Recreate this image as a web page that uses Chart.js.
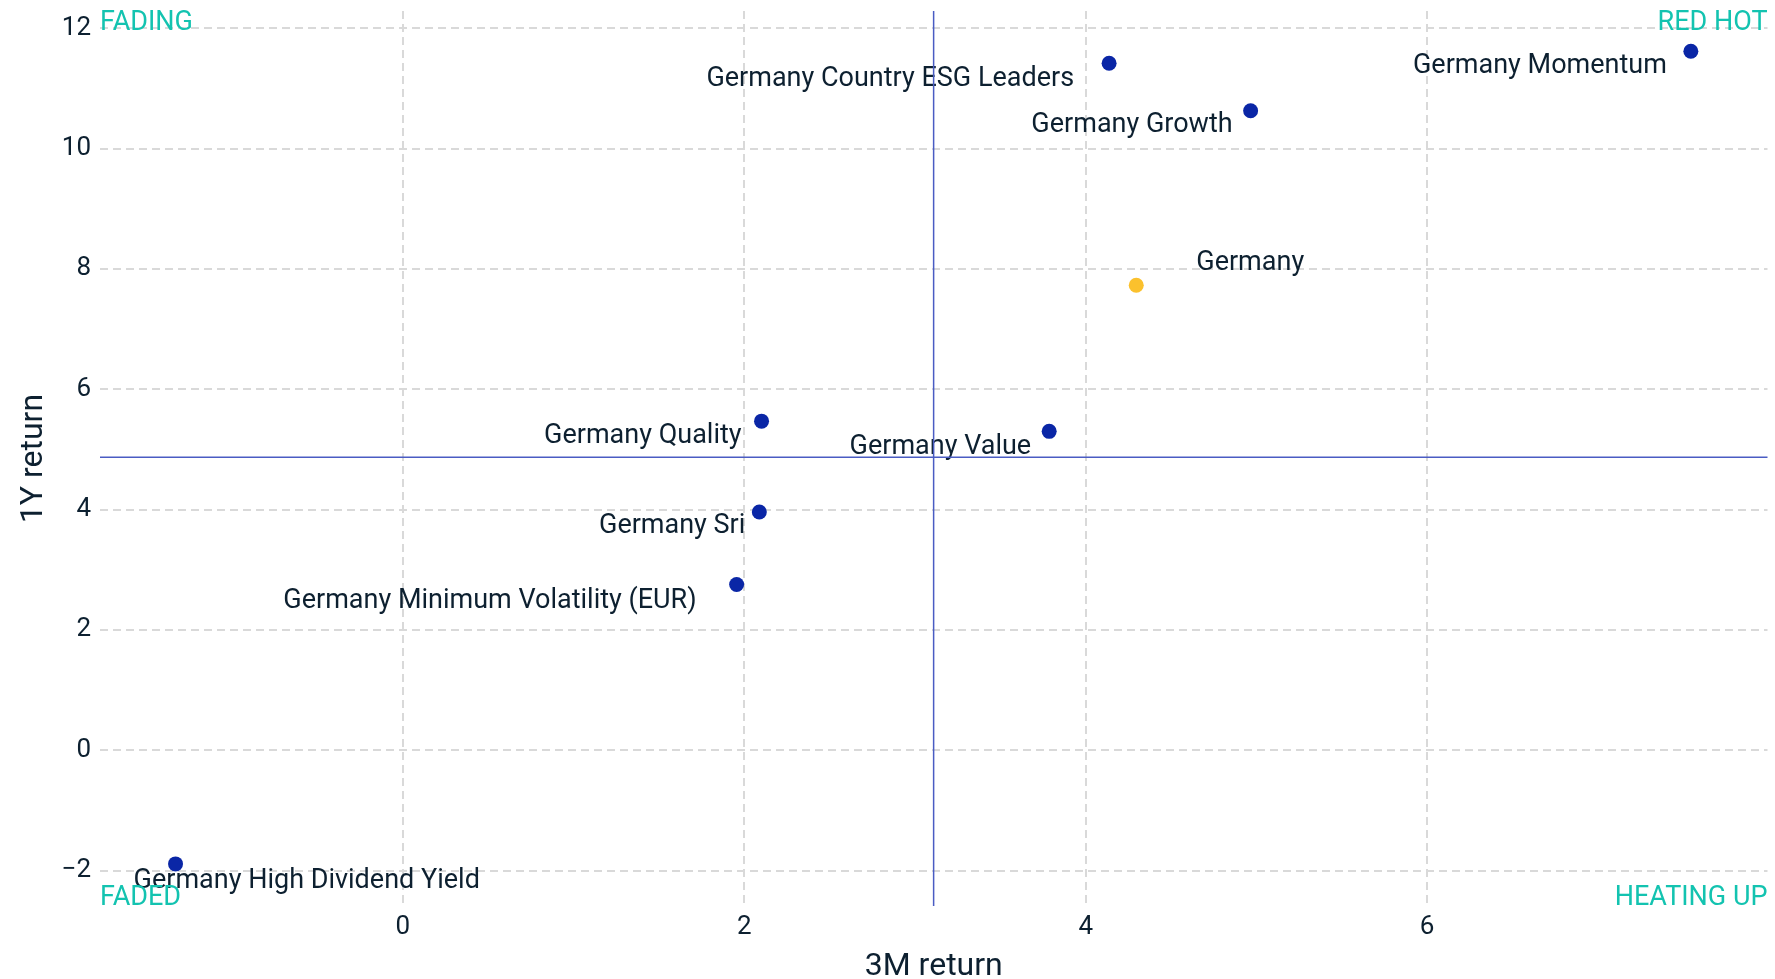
<!DOCTYPE html>
<html>
<head>
<meta charset="utf-8">
<script src="https://cdn.jsdelivr.net/npm/chart.js@4.4.1/dist/chart.umd.min.js"></script>
<style>
  body { margin: 0; background: #fff; }
  #wrap { width: 1775px; height: 979px; }
</style>
</head>
<body>
<div id="wrap"><canvas id="quadChart" width="1775" height="979"></canvas></div>
<script>
// data
const names = ['Germany Momentum', 'Germany Country ESG Leaders', 'Germany Growth', 'Germany',
  'Germany Quality', 'Germany Value', 'Germany Sri', 'Germany Minimum Volatility (EUR)', 'Germany High Dividend Yield'];
const ret3m = [7.545, 4.137, 4.966, 4.296, 2.101, 3.786, 2.088, 1.955, -1.332];
const ret1y = [11.62, 11.42, 10.63, 7.73, 5.47, 5.30, 3.96, 2.755, -1.89];
const xTicks = [0, 2, 4, 6];
const yTicks = [-2, 0, 2, 4, 6, 8, 10, 12];
const refX = 3.109;   // vertical divider
const refY = 4.868;   // horizontal divider
const quadrants = ['FADING', 'RED HOT', 'FADED', 'HEATING UP'];
const benchmark = 'Germany';

// label placement (px from the point): dx, dy, side
const labelPos = [
  [-24, 15, 'right'], [-35, 16, 'right'], [-18, 15, 'right'], [60, -22, 'left'],
  [-20, 15, 'right'], [-18, 16, 'right'], [-14, 14, 'right'], [-40, 17, 'right'], [-42, 17, 'left']
];

const textCol = '#0d2030';
const teal = '#13c3b0';

const points = ret3m.map((x, i) => ({ x: x, y: ret1y[i] }));
const colors = names.map(n => n === benchmark ? '#fbc12d' : '#0a26a6');
const minus = v => String(v).replace('-', '\u2212');

const overlay = {
  id: 'overlay',
  afterDatasetsDraw(chart) {
    const ctx = chart.ctx;
    const xs = chart.scales.x, ys = chart.scales.y;
    const area = chart.chartArea;
    ctx.save();
    // point labels
    ctx.font = '27px Roboto';
    ctx.fillStyle = textCol;
    ctx.textBaseline = 'middle';
    names.forEach((n, i) => {
      const px = xs.getPixelForValue(ret3m[i]);
      const py = ys.getPixelForValue(ret1y[i]);
      const p = labelPos[i];
      ctx.textAlign = p[2];
      ctx.fillText(n, px + p[0], py + p[1]);
    });
    // divider lines
    ctx.strokeStyle = '#4a5cc3';
    ctx.lineWidth = 1.5;
    const vx = xs.getPixelForValue(refX);
    const hy = ys.getPixelForValue(refY);
    ctx.beginPath();
    ctx.moveTo(vx, area.top);
    ctx.lineTo(vx, area.bottom);
    ctx.moveTo(area.left, hy);
    ctx.lineTo(area.right, hy);
    ctx.stroke();
    // quadrant names
    ctx.fillStyle = teal;
    ctx.textAlign = 'left';
    ctx.fillText(quadrants[0], area.left, area.top + 12);
    ctx.fillText(quadrants[2], area.left, area.bottom - 8);
    ctx.textAlign = 'right';
    ctx.fillText(quadrants[1], area.right, area.top + 12);
    ctx.fillText(quadrants[3], area.right, area.bottom - 8);
    ctx.restore();
  }
};

const ctxQ = document.getElementById('quadChart').getContext('2d');
const quadChart = new Chart(ctxQ, {
  type: 'scatter',
  data: {
    datasets: [{
      data: points,
      pointRadius: 7.5,
      pointHoverRadius: 7.5,
      pointBorderWidth: 0,
      pointBackgroundColor: colors,
      pointBorderColor: colors
    }]
  },
  options: {
    responsive: false,
    animation: false,
    events: [],
    layout: { padding: { top: 11, right: 7, left: 0, bottom: 0 } },
    plugins: { legend: { display: false }, tooltip: { enabled: false } },
    scales: {
      x: {
        type: 'linear',
        min: -1.7745,
        max: 7.994,
        afterFit: s => { s.height = 73; s.paddingLeft = 0; s.paddingRight = 0; },
        afterBuildTicks: s => { s.ticks = xTicks.map(v => ({ value: v })); },
        grid: { color: '#d9d9d9', lineWidth: 2, drawTicks: false },
        border: { display: false, dash: [8, 5] },
        ticks: { color: textCol, font: { family: 'Roboto', size: 26 }, padding: 6, callback: minus },
        title: {
          display: true, text: '3M return', color: textCol,
          font: { family: 'Roboto', size: 32, lineHeight: 0.75 }, padding: { top: 0, bottom: 0 }
        }
      },
      y: {
        type: 'linear',
        min: -2.59,
        max: 12.288,
        afterFit: s => { s.width = 100; s.paddingTop = 0; s.paddingBottom = 0; },
        afterBuildTicks: s => { s.ticks = yTicks.map(v => ({ value: v })); },
        grid: { color: '#d9d9d9', lineWidth: 2, drawTicks: false },
        border: { display: false, dash: [8, 5] },
        ticks: { color: textCol, font: { family: 'Roboto', size: 26 }, padding: 9, callback: minus },
        title: {
          display: true, text: '1Y return', color: textCol,
          font: { family: 'Roboto', size: 32, lineHeight: 1 }, padding: { top: 18, bottom: 0 }
        }
      }
    }
  },
  plugins: [overlay]
});
</script>
</body>
</html>
